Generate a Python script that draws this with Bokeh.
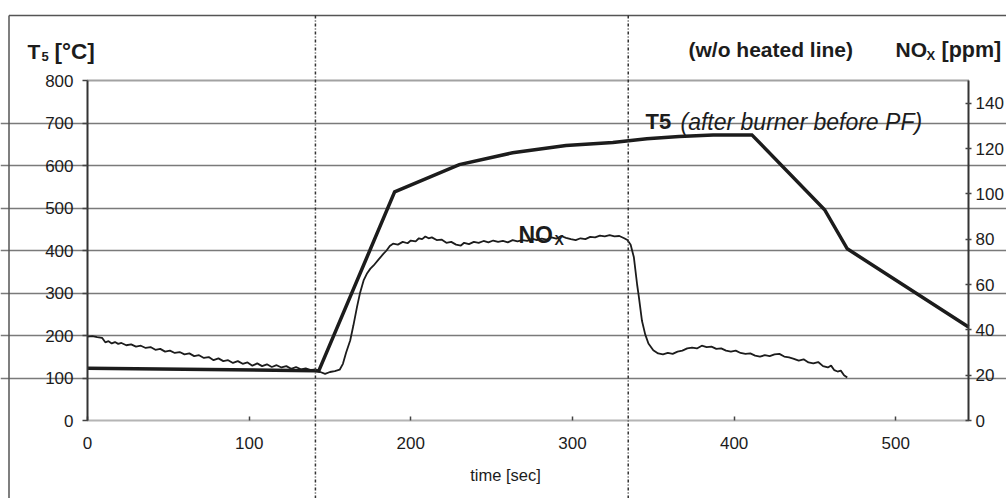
from bokeh.plotting import figure
from bokeh.models import Range1d, LinearAxis, FixedTicker, Label, Arrow, Grid
from bokeh.embed import file_html
from bokeh.resources import INLINE

# ---------------- data ----------------
time_ticks = [0, 100, 200, 300, 400, 500]
temp_ticks = [0, 100, 200, 300, 400, 500, 600, 700, 800]
nox_ticks = [0, 20, 40, 60, 80, 100, 120, 140]
marker_times = [141, 334.5]

t5_time = [0, 141, 143, 190, 230, 263, 296, 325, 346, 366, 387, 411, 456, 470, 545]
t5_temp = [123, 117, 116, 538, 602, 630, 647, 654, 663, 668, 672, 672, 496, 404, 220]

nox_time = [0, 3, 6, 9, 11, 13, 15, 17, 19, 21, 24, 27, 30, 33, 36, 39, 42, 45, 48, 51,
            54, 57, 60, 63, 66, 69, 72, 75, 78, 81, 84, 87, 90, 93, 96, 99, 102, 105, 108, 111,
            114, 117, 120, 123, 126, 129, 132, 135, 138, 141, 144, 147, 150, 153, 156, 158, 160, 162.5, 164.5, 166.7,
            168.5, 170.8, 173, 175, 177, 180, 183, 185, 187, 189, 192, 195, 198, 200, 203, 205, 207, 209, 211, 213,
            216, 219, 222, 225, 228, 231, 233, 236, 239, 242, 245, 248, 251, 254, 257, 260, 263, 266, 269, 272,
            275, 278, 281, 284, 287, 290, 293, 296, 299, 302, 305, 308, 311, 314, 317, 320, 323, 326, 329, 332,
            334, 336, 338, 340, 341, 343, 345, 347, 350, 353, 356, 359, 362, 365, 368, 371, 374, 377, 380, 383,
            386, 389, 392, 395, 398, 401, 404, 407, 410, 413, 416, 419, 422, 425, 428, 431, 434, 437, 440, 443,
            446, 449, 452, 455, 458, 460, 462, 464, 466, 468, 470]
nox_ppm = [37.0, 37.2, 36.8, 36.5, 34.5, 35.0, 34.0, 34.6, 33.8, 34.2, 33.2, 33.6, 32.6, 33.0, 32.0, 32.4, 31.2, 31.6, 30.4, 30.8,
           29.8, 30.2, 29.2, 29.6, 28.4, 28.8, 27.6, 28.0, 26.6, 27.4, 26.2, 26.6, 25.4, 26.2, 25.0, 25.6, 24.2, 25.2, 24.0, 24.8,
           23.6, 24.4, 23.4, 24.0, 22.8, 23.6, 22.6, 23.0, 22.2, 22.6, 21.4, 20.6, 21.4, 21.8, 22.4, 25.0, 30.0, 35.3, 42.0, 50.0,
           56.0, 61.8, 65.0, 67.0, 68.4, 71.0, 73.5, 75.0, 77.0, 78.0, 77.6, 78.8, 78.2, 79.4, 79.0, 80.4, 80.0, 81.2, 80.4, 80.8,
           79.6, 79.8, 78.4, 78.8, 77.6, 77.2, 78.4, 77.8, 78.8, 78.4, 79.2, 78.6, 79.4, 78.8, 79.2, 78.6, 79.6, 79.0, 79.6, 79.2,
           80.2, 79.6, 80.2, 79.8, 80.8, 80.2, 81.4, 80.6, 80.0, 79.6, 80.4, 80.0, 81.0, 80.8, 81.6, 81.2, 81.8, 81.2, 81.4, 80.4,
           79.6, 77.5, 72.0, 60.0, 55.0, 44.0, 38.0, 34.0, 31.0, 29.6, 29.2, 29.8, 29.4, 30.4, 30.8, 31.8, 32.2, 31.8, 33.0, 32.4,
           32.6, 31.6, 31.8, 30.8, 30.4, 30.8, 29.8, 29.4, 29.6, 28.6, 28.2, 28.8, 28.4, 29.2, 29.4, 28.2, 27.8, 27.2, 26.4, 27.0,
           25.6, 25.2, 25.8, 24.0, 23.4, 24.2, 22.2, 21.6, 22.0, 20.0, 19.0]

# ---------------- layout (pixel geometry of the plot area) ----------------
W, H = 1006, 498
T_MAX, TEMP_MAX, NOX_MAX = 545, 800, 150
FX0, FX1 = 87, 968      # pixel of time 0 and time T_MAX
FY0, FY1 = 420, 80      # pixel of temp 0 and temp TEMP_MAX
SX = (FX1 - FX0) / T_MAX
SY = (FY0 - FY1) / TEMP_MAX


def X(px):
    return (px - FX0) / SX


def Y(py):
    return (FY0 - py) / SY


y_lo, y_hi = Y(H), Y(0)
k = NOX_MAX / TEMP_MAX

FONT = "Liberation Sans"
INK = "#1c1c1c"

p = figure(width=W, height=H,
           x_range=Range1d(X(0), X(W)), y_range=Range1d(y_lo, y_hi),
           x_axis_location=None, y_axis_location=None,
           output_backend="svg", toolbar_location=None,
           min_border=0, min_border_left=0, min_border_right=0,
           min_border_top=0, min_border_bottom=0,
           background_fill_color="white", border_fill_color="white")
p.outline_line_color = None
p.center = []
p.extra_y_ranges = {"nox": Range1d(y_lo * k, y_hi * k)}

# horizontal grid lines
p.add_layout(Grid(dimension=1, ticker=FixedTicker(ticks=temp_ticks[1:-1]), bounds=(0, T_MAX),
                  grid_line_color="#7a7a7a", grid_line_width=1.5))


def style_axis(ax, tick_in, tick_out, standoff, line_color, dash=None):
    ax.axis_line_color = line_color
    ax.axis_line_width = 2
    if dash:
        ax.axis_line_dash = dash
    ax.major_tick_in = tick_in
    ax.major_tick_out = tick_out
    ax.major_tick_line_color = "#444444"
    ax.major_tick_line_width = 1.5
    ax.minor_tick_line_color = None
    ax.major_label_standoff = standoff
    ax.major_label_text_font = FONT
    ax.major_label_text_font_size = "17px"
    ax.major_label_text_color = INK


# bottom axis (time)
xa = LinearAxis(ticker=FixedTicker(ticks=time_ticks), fixed_location=0, bounds=(0, T_MAX))
style_axis(xa, 4, 0, 16, "#6a6a6a", "1 1")
p.add_layout(xa, "below")

# left axis (T5)
ya = LinearAxis(ticker=FixedTicker(ticks=temp_ticks), fixed_location=0, bounds=(0, TEMP_MAX))
style_axis(ya, 0, 5, 9, "#333333")
p.add_layout(ya, "left")

# right axis (NOx)
ra = LinearAxis(y_range_name="nox", ticker=FixedTicker(ticks=nox_ticks),
                fixed_location=T_MAX, bounds=(0, NOX_MAX))
style_axis(ra, 3, 3, 4, "#333333")
p.add_layout(ra, "right")


def rule(x0, y0, x1, y1, color, width, dash="solid"):
    p.add_layout(Arrow(start=None, end=None, x_start=x0, y_start=y0, x_end=x1, y_end=y1,
                       line_color=color, line_width=width, line_dash=dash))


# dotted top border of the plot area
rule(0, TEMP_MAX, T_MAX, TEMP_MAX, "#444444", 2, "1 1")
# outer frame of the scanned figure
rule(X(8.5), Y(15), X(8.5), Y(H + 5), "#555555", 1.5)
rule(X(8.5), Y(15), X(W + 5), Y(15), "#555555", 1.5)
# vertical dash-dot markers
for t in marker_times:
    rule(t, Y(15), t, Y(H + 5), "#333333", 1.5, "3 2 1 2")

# series
p.line(x=nox_time, y=nox_ppm, y_range_name="nox", line_color=INK, line_width=1.8)
p.line(x=t5_time, y=t5_temp, line_color=INK, line_width=3.5, line_join="miter")


# ---------------- texts ----------------
def lab(px, py, text, size, style="bold", align="left", baseline="alphabetic"):
    p.add_layout(Label(x=X(px), y=Y(py), text=text, text_font=FONT, text_font_size=size,
                       text_font_style=style, text_color=INK,
                       text_align=align, text_baseline=baseline))


# left header  T5 [°C]
lab(27, 51, "T", "21px")
lab(41, 56, "5", "13px")
lab(54, 51, "[°C]", "22.5px")
# right headers
lab(688, 49, "(w/o heated line)", "21px")
lab(895, 49, "NO", "21px")
lab(926, 55, "X", "13px")
lab(941, 49, "[ppm]", "21.5px")
# curve annotations
lab(645, 121, "T5", "22px")
lab(680, 121, "(after burner before PF)", "23px", "italic")
lab(518, 234, "NO", "23px")
lab(554, 239, "X", "14px")
# x axis title
lab(505, 474, "time [sec]", "16.5px", "normal", "center", "middle")

open("out.html", "w").write(file_html(p, INLINE))
